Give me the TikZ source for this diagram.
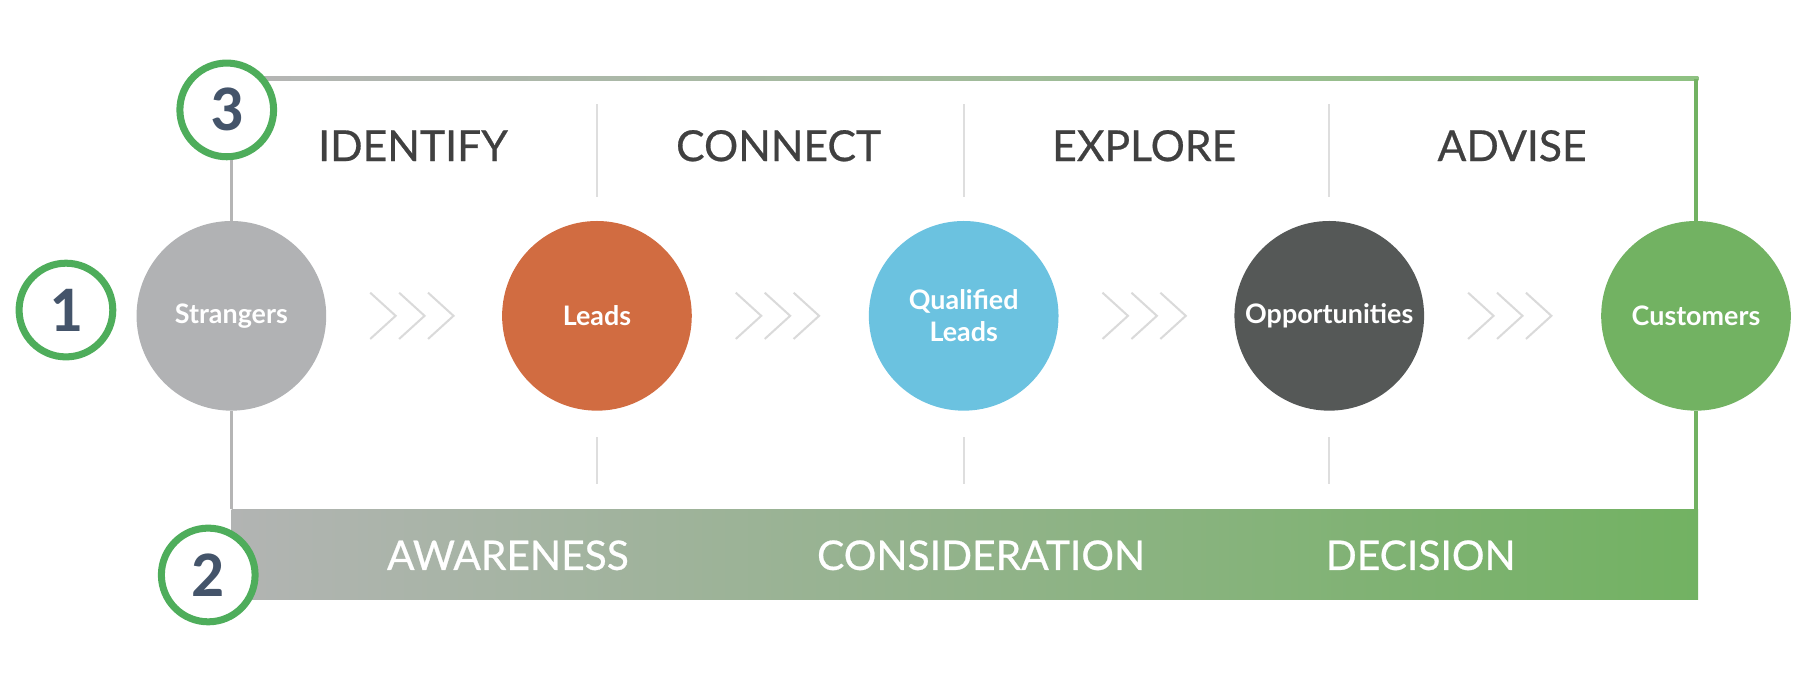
\documentclass[tikz,border=0pt]{standalone}
\usepackage{fontspec}
\setmainfont{Lato}
\newfontfamily\medfont[FakeBold=0.6]{Lato}
\newfontfamily\numfont{Carlito}
\usetikzlibrary{positioning}
\definecolor{strgray}{HTML}{B1B2B4}
\definecolor{leadred}{HTML}{D16C41}
\definecolor{qualblue}{HTML}{6BC2E0}
\definecolor{oppdark}{HTML}{555857}
\definecolor{custgreen}{HTML}{72B262}
\definecolor{ringgreen}{HTML}{4EAD5B}
\definecolor{numslate}{HTML}{44546A}
\definecolor{headgray}{HTML}{404040}
\definecolor{rulegray}{HTML}{B5B5B5}
\definecolor{divgray}{HTML}{DEDEDE}
\definecolor{chevgray}{HTML}{DADADA}
\definecolor{barleft}{HTML}{B2B4B3}
\tikzstyle{stage} = [circle, minimum size=3.795cm, inner sep=0pt, text=white, font=\bfseries\fontsize{15.3}{18}\selectfont, align=center]
\tikzstyle{phase} = [text=headgray, font=\medfont\fontsize{24.3}{27}\selectfont]
\tikzstyle{funnel} = [text=white, font=\medfont\fontsize{23.2}{26}\selectfont]
\tikzstyle{marker} = [circle, draw=ringgreen, line width=4pt, fill=white, minimum size=1.875cm, inner sep=0pt, text=numslate, font=\numfont\bfseries\fontsize{37}{40}\selectfont]
\tikzstyle{chevron} = [draw=chevgray, line width=1.16pt]
\tikzstyle{divider} = [draw=divgray, line width=1.27pt]

\begin{document}
\begin{tikzpicture}[x=0.02314cm, y=-0.02314cm]
	\useasboundingbox (0,0) rectangle (1568,603);
	% frame
	\shade[left color=rulegray, right color=custgreen!80] (200,66.5) rectangle (1468,69.5);
	\node[minimum width=29.34cm, minimum height=1.805cm, inner sep=0pt, left color=barleft, right color=custgreen] (bar) at (834,479) {};
	\coordinate (topright) at (1466,68);
	% stages
	\node[stage, fill=strgray] (strangers) at (200,273) {Strangers};
	\node[stage, fill=leadred] (leads) at (516,273) {Leads};
	\node[stage, fill=qualblue] (qualified) at (833,273) {Qualified\\Leads};
	\node[stage, fill=oppdark] (opportunities) at (1149,273) {Opportunities};
	\node[stage, fill=custgreen] (customers) at (1466,273) {Customers};
	\draw[rulegray, line width=2pt] (strangers) -- (strangers |- bar.north);
	\draw[custgreen, line width=2pt] (customers) -- (customers |- bar.north);
	\draw[custgreen, line width=2pt] (customers) -- (topright);
	% dividers
	\draw[divider] (516,90) -- (516,170);
	\draw[divider] (833,90) -- (833,170);
	\draw[divider] (1149,90) -- (1149,170);
	\draw[divider] (516,378) -- (516,418);
	\draw[divider] (833,378) -- (833,418);
	\draw[divider] (1149,378) -- (1149,418);
	% chevrons
	\draw[chevron] (320,253) -- (342,273) -- (320,293) (345,253) -- (367,273) -- (345,293) (370,253) -- (392,273) -- (370,293);
	\draw[chevron] (636,253) -- (658,273) -- (636,293) (661,253) -- (683,273) -- (661,293) (686,253) -- (708,273) -- (686,293);
	\draw[chevron] (953,253) -- (975,273) -- (953,293) (978,253) -- (1000,273) -- (978,293) (1003,253) -- (1025,273) -- (1003,293);
	\draw[chevron] (1269,253) -- (1291,273) -- (1269,293) (1294,253) -- (1316,273) -- (1294,293) (1319,253) -- (1341,273) -- (1319,293);
	% headings
	\node[phase] (identify) at (357,126) {IDENTIFY};
	\node[phase] (connect) at (673,126) {CONNECT};
	\node[phase] (explore) at (989,126) {EXPLORE};
	\node[phase] (advise) at (1307,126) {ADVISE};
	\node[funnel] (awareness) at (439,480) {AWARENESS};
	\node[funnel] (consideration) at (848,480) {CONSIDERATION};
	\node[funnel] (decision) at (1228,480) {DECISION};
	% numbered markers
	\node[marker] (num3) at (196,95) {3};
	\node[marker] (num1) at (57,268) {1};
	\node[marker] (num2) at (180,497) {2};
	\draw[rulegray, line width=2pt] (strangers) -- (strangers |- num3.south);
\end{tikzpicture}
\end{document}
